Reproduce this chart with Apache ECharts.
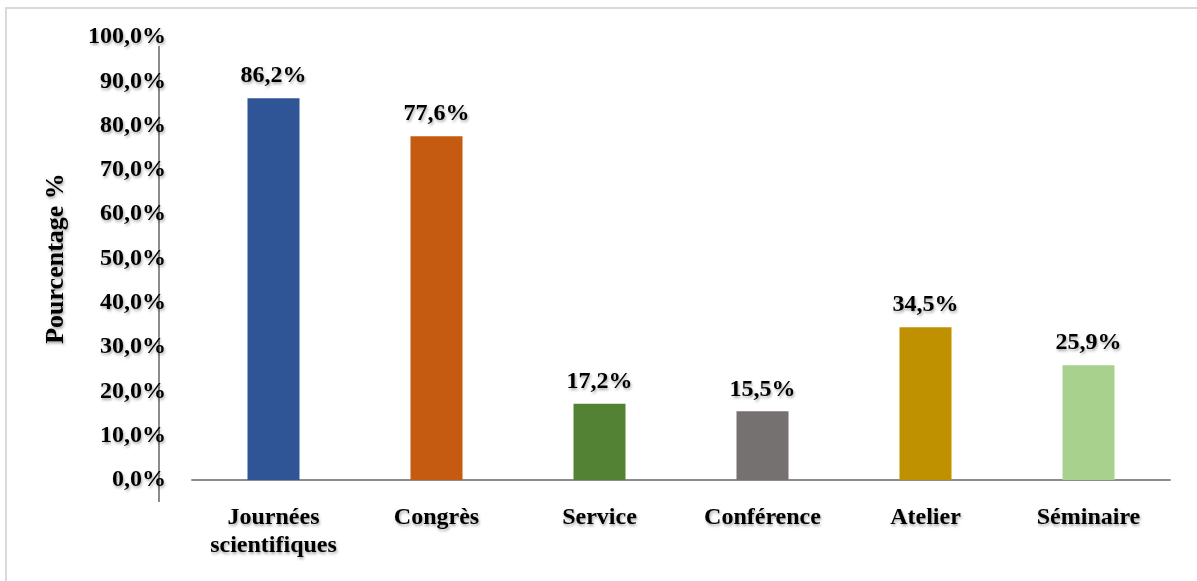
<!DOCTYPE html>
<html>
<head>
<meta charset="utf-8">
<script src="https://cdn.jsdelivr.net/npm/echarts@6/dist/echarts.min.js"></script>
<style>
html,body{margin:0;padding:0;background:#fff;}
#chart{width:1197px;height:581px;}
</style>
</head>
<body>
<div id="chart"></div>
<script>
const categories = ['Journées\nscientifiques', 'Congrès', 'Service', 'Conférence', 'Atelier', 'Séminaire'];
const values = [86.2, 77.6, 17.2, 15.5, 34.5, 25.9];
const barColors = ['#2f5597', '#c55a11', '#548235', '#767171', '#bf9000', '#a9d18e'];
const yTicks = [0, 10, 20, 30, 40, 50, 60, 70, 80, 90, 100];
const yTitle = 'Pourcentage %';

const font = '"Liberation Serif", "Times New Roman", serif';
const shadow = {textShadowColor: 'rgba(0,0,0,0.35)', textShadowBlur: 3, textShadowOffsetX: 1, textShadowOffsetY: 2};
const fmt = v => v.toFixed(1).replace('.', ',') + '%';

const chart = echarts.init(document.getElementById('chart'));
chart.setOption({
  animation: false,
  backgroundColor: '#fff',
  graphic: [
    {type: 'rect', shape: {x: 6, y: 8, width: 1250, height: 640}, style: {fill: 'none', stroke: '#d9d9d9', lineWidth: 2}, silent: true},
    {type: 'line', shape: {x1: 159, y1: 46, x2: 159, y2: 502}, style: {stroke: '#8c8c8c', lineWidth: 2}, silent: true}
  ],
  grid: {left: 192, right: 27, top: 37, bottom: 101, containLabel: false},
  xAxis: {
    type: 'category',
    data: categories,
    axisLine: {show: true, lineStyle: {color: '#8c8c8c', width: 2}},
    axisTick: {show: false},
    axisLabel: Object.assign({
      color: '#000', fontFamily: font, fontWeight: 'bold', fontSize: 24,
      lineHeight: 28, margin: 24, interval: 0, verticalAlign: 'top'
    }, shadow)
  },
  yAxis: {
    type: 'value',
    min: yTicks[0], max: yTicks[yTicks.length - 1], interval: 10,
    offset: 33,
    name: yTitle,
    nameLocation: 'middle',
    nameGap: 90,
    nameRotate: 90,
    nameTextStyle: Object.assign({color: '#000', fontFamily: font, fontWeight: 'bold', fontSize: 26}, shadow),
    axisLine: {show: false},
    axisTick: {show: false},
    splitLine: {show: false},
    axisLabel: Object.assign({
      color: '#000', fontFamily: font, fontWeight: 'bold', fontSize: 24,
      margin: -7, formatter: v => fmt(v)
    }, shadow)
  },
  series: [{
    type: 'bar',
    data: values.map((v, i) => ({value: v, itemStyle: {color: barColors[i]}})),
    barWidth: 52,
    label: Object.assign({
      show: true, position: 'top', distance: 10,
      color: '#000', fontFamily: font, fontWeight: 'bold', fontSize: 24,
      formatter: p => fmt(p.value)
    }, shadow)
  }]
});
</script>
</body>
</html>
